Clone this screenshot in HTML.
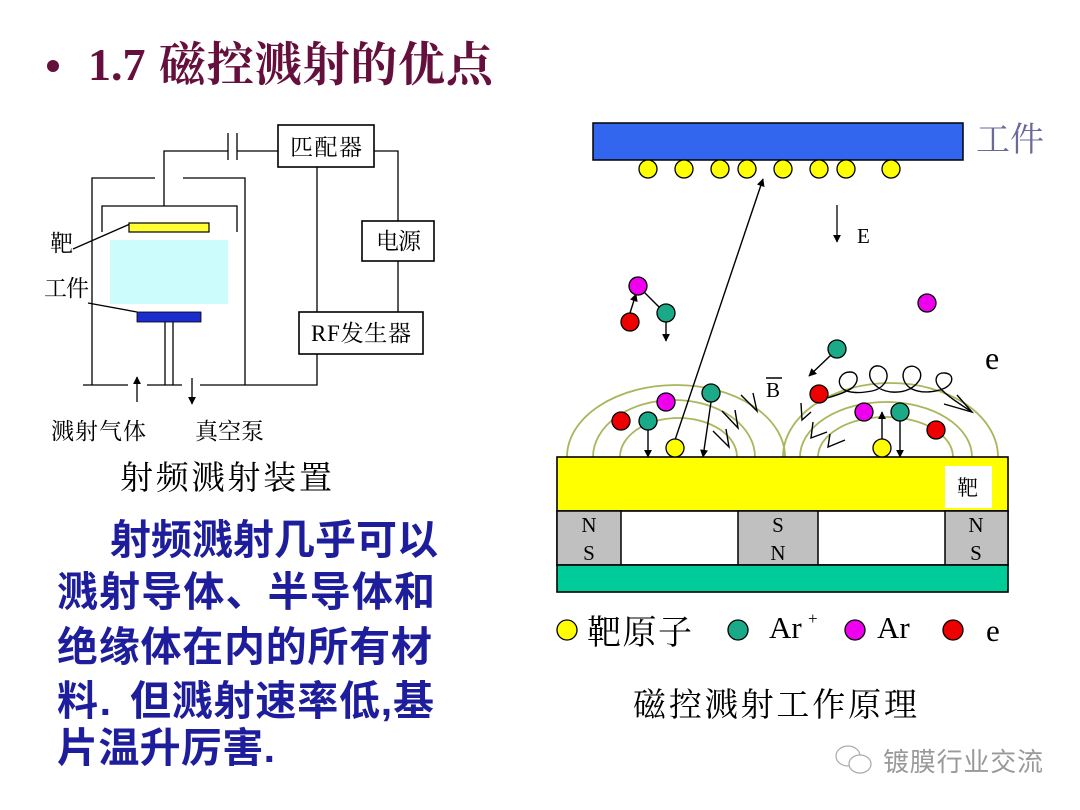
<!DOCTYPE html>
<html><head><meta charset="utf-8"><style>
html,body{margin:0;padding:0;background:#fff;}
svg{display:block;}
.s{font-family:"Liberation Serif","Noto Serif CJK SC",serif;}
.h{font-family:"Liberation Sans","Noto Sans CJK SC",sans-serif;}
</style></head><body>
<svg width="1080" height="810" viewBox="0 0 1080 810" xmlns="http://www.w3.org/2000/svg">
<defs>
<marker id="ah" viewBox="0 0 10 10" refX="9" refY="5" markerWidth="8" markerHeight="8" orient="auto" markerUnits="userSpaceOnUse">
<path d="M0,0 L10,5 L0,10 z" fill="#000"/></marker>
</defs>
<rect width="1080" height="810" fill="#fff"/>

<!-- Title -->
<circle cx="53" cy="66" r="6" fill="#650f3c"/>
<text x="88" y="80" class="s" font-size="46" font-weight="bold" fill="#650f3c">1.7</text>
<text x="159" y="81" class="s" font-size="47" font-weight="bold" fill="#650f3c" textLength="334" lengthAdjust="spacing">磁控溅射的优点</text>

<!-- Left apparatus -->
<g stroke="#000" stroke-width="1.3" fill="none">
<polyline points="164,206 164,151 228,151"/>
<line x1="237" y1="151" x2="278" y2="151"/>
<line x1="228" y1="133" x2="228" y2="160"/>
<line x1="237" y1="133" x2="237" y2="160"/>
<rect x="278" y="125" width="96" height="42" stroke-width="1.6"/>
<polyline points="374,151 398,151 398,221"/>
<rect x="362" y="221" width="72" height="40" stroke-width="1.6"/>
<line x1="398" y1="261" x2="398" y2="312"/>
<line x1="317" y1="167" x2="317" y2="312"/>
<rect x="299" y="312" width="124" height="42" stroke-width="1.6"/>
<polyline points="317,354 317,385 200,385"/>
<line x1="147" y1="385" x2="182" y2="385"/>
<line x1="83" y1="385" x2="128" y2="385"/>
<polyline points="92,385 92,178 155,178"/>
<polyline points="183,178 245,178 245,385"/>
<polyline points="102,232 102,206 237,206 237,232"/>
<line x1="165" y1="322" x2="165" y2="385"/>
<line x1="173" y1="322" x2="173" y2="385"/>
<line x1="73" y1="249" x2="130" y2="224"/>
<line x1="88" y1="303" x2="137" y2="312"/>
<line x1="137" y1="402" x2="137" y2="377" marker-end="url(#ah)"/>
<line x1="192" y1="378" x2="192" y2="404" marker-end="url(#ah)"/>
</g>
<rect x="110" y="240" width="118" height="64" fill="#ccfcfc"/>
<rect x="129" y="223" width="80" height="9" fill="#ffff33" stroke="#000" stroke-width="1.2"/>
<rect x="137" y="312" width="64" height="10" fill="#1a2ccc" stroke="#000" stroke-width="0.8"/>

<g class="s" font-size="23" fill="#000">
<text x="290" y="155" textLength="72" lengthAdjust="spacing">匹配器</text>
<text x="376" y="249" textLength="45" lengthAdjust="spacing">电源</text>
<text x="311" y="341" textLength="100" lengthAdjust="spacing">RF发生器</text>
<text x="50" y="251">靶</text>
<text x="44" y="296" textLength="45" lengthAdjust="spacing">工件</text>
<text x="51" y="439" textLength="95" lengthAdjust="spacing">溅射气体</text>
<text x="195" y="439" textLength="69" lengthAdjust="spacing">真空泵</text>
</g>
<text x="120" y="489" class="s" font-size="33" fill="#000" textLength="212" lengthAdjust="spacing">射频溅射装置</text>

<!-- Body text -->
<g class="h" font-size="41" font-weight="bold" fill="#1e1e9c">
<text x="110" y="554" textLength="328" lengthAdjust="spacing">射频溅射几乎可以</text>
<text x="57" y="606" textLength="378" lengthAdjust="spacing">溅射导体、半导体和</text>
<text x="57" y="661" textLength="375" lengthAdjust="spacing">绝缘体在内的所有材</text>
<text x="57" y="715" textLength="54" lengthAdjust="spacing">料.</text>
<text x="130" y="715" textLength="304" lengthAdjust="spacing">但溅射速率低,基</text>
<text x="57" y="762" textLength="218" lengthAdjust="spacing">片温升厉害.</text>
</g>

<!-- Right diagram -->
<rect x="593" y="123" width="370" height="37" fill="#3366ee" stroke="#000" stroke-width="1.5"/>
<text x="976" y="151" class="s" font-size="34" fill="#6a6a9a">工件</text>
<g fill="#ffff00" stroke="#000" stroke-width="1.3">
<circle cx="648" cy="169" r="9"/><circle cx="684" cy="169" r="9"/><circle cx="720" cy="169" r="9"/><circle cx="747" cy="169" r="9"/><circle cx="783" cy="169" r="9"/><circle cx="819" cy="169" r="9"/><circle cx="846" cy="169" r="9"/><circle cx="891" cy="169" r="9"/>
</g>
<line x1="837" y1="205" x2="837" y2="242" stroke="#000" stroke-width="1.3" marker-end="url(#ah)"/>
<text x="857" y="243" class="s" font-size="21" fill="#000">E</text>

<!-- field lines -->
<g fill="none" stroke="#aab55c" stroke-width="1.8">
<path d="M567,457 A109,72 0 0 1 785,457"/>
<path d="M593,457 A81,57 0 0 1 755,457"/>
<path d="M620,457 A58.5,39 0 0 1 737,457"/>
<path d="M783,457 A107.5,74 0 0 1 998,457"/>
<path d="M800,457 A86,55 0 0 1 972,457"/>
<path d="M818,457 A67.5,40 0 0 1 953,457"/>
</g>

<!-- target & magnets -->
<rect x="557" y="457" width="451" height="54" fill="#ffff00" stroke="#000" stroke-width="1.6"/>
<rect x="945" y="466" width="47" height="42" fill="#fff"/>
<text x="957" y="495" class="s" font-size="21" fill="#000">靶</text>
<rect x="557" y="511" width="451" height="54" fill="#fff" stroke="#000" stroke-width="1.6"/>
<rect x="557" y="511" width="64" height="54" fill="#c0c0c0" stroke="#000" stroke-width="1.5"/>
<rect x="738" y="511" width="80" height="54" fill="#c0c0c0" stroke="#000" stroke-width="1.5"/>
<rect x="945" y="511" width="63" height="54" fill="#c0c0c0" stroke="#000" stroke-width="1.5"/>
<rect x="557" y="565" width="451" height="27" fill="#00cc99" stroke="#000" stroke-width="1.6"/>
<g class="s" font-size="21" fill="#000" text-anchor="middle">
<text x="589" y="532">N</text><text x="589" y="560">S</text>
<text x="778" y="532">S</text><text x="778" y="560">N</text>
<text x="976" y="532">N</text><text x="976" y="560">S</text>
</g>

<!-- arrows & lines -->
<g stroke="#000" stroke-width="1.4" fill="none">
<line x1="675" y1="440" x2="763" y2="179" marker-end="url(#ah)"/>
<line x1="644" y1="292" x2="659" y2="307"/>
<line x1="630" y1="313" x2="636" y2="294" marker-end="url(#ah)"/>
<line x1="666" y1="322" x2="666" y2="341" marker-end="url(#ah)"/>
<line x1="831" y1="355" x2="809" y2="376" marker-end="url(#ah)"/>
<line x1="648" y1="430" x2="648" y2="457" marker-end="url(#ah)"/>
<line x1="711" y1="402" x2="703" y2="457" marker-end="url(#ah)"/>
<line x1="900" y1="421" x2="900" y2="457" marker-end="url(#ah)"/>
<line x1="882" y1="439" x2="882" y2="412" marker-end="url(#ah)"/>
<!-- chevrons -->
<polyline points="741,395 757,411 753,393"/>
<polyline points="722,411 738,428 735,410"/>
<polyline points="713,431 729,447 726,429"/>
<polyline points="801,403 802,420 811,412"/>
<polyline points="813,422 811,438 827,432"/>
<polyline points="830,434 828,447 845,440"/>
<!-- electron trajectory -->
<path d="M827,398 C834,396 845,393 852,388 C860,381 858,372 850,372 C841,372 836,381 842,388 C848,394 862,393 872,391 C882,389 890,380 886,371 C882,364 872,364 870,372 C868,381 878,391 892,392 C905,393 915,388 920,379 C923,370 915,364 908,367 C900,371 902,384 912,389 C922,394 936,392 945,388 C954,383 954,374 945,373 C936,372 933,381 940,388 C947,396 960,404 972,412"/>
<polyline points="944,404 972,412 957,395"/>
</g>

<!-- particles -->
<g stroke="#000" stroke-width="1.3">
<circle cx="638" cy="286" r="9" fill="#ee00ee"/>
<circle cx="630" cy="322" r="9" fill="#ee0000"/>
<circle cx="666" cy="313" r="9" fill="#1aaa88"/>
<circle cx="927" cy="303" r="9" fill="#ee00ee"/>
<circle cx="837" cy="349" r="9" fill="#1aaa88"/>
<circle cx="819" cy="394" r="9" fill="#ee0000"/>
<circle cx="864" cy="412" r="9" fill="#ee00ee"/>
<circle cx="900" cy="412" r="9" fill="#1aaa88"/>
<circle cx="936" cy="430" r="9" fill="#ee0000"/>
<circle cx="882" cy="448" r="9" fill="#ffff00"/>
<circle cx="621" cy="421" r="9" fill="#ee0000"/>
<circle cx="648" cy="421" r="9" fill="#1aaa88"/>
<circle cx="666" cy="402" r="9" fill="#ee00ee"/>
<circle cx="711" cy="393" r="9" fill="#1aaa88"/>
<circle cx="675" cy="448" r="9" fill="#ffff00"/>
</g>
<text x="766" y="397" class="s" font-size="21" fill="#000">B</text>
<line x1="766" y1="378" x2="782" y2="378" stroke="#000" stroke-width="1.5"/>
<text x="985" y="369" class="s" font-size="32" fill="#000">e</text>

<!-- legend -->
<g stroke="#000" stroke-width="1.3">
<circle cx="567" cy="630" r="10" fill="#ffff00"/>
<circle cx="738" cy="630" r="10" fill="#1aaa88"/>
<circle cx="855" cy="630" r="10" fill="#ee00ee"/>
<circle cx="953" cy="630" r="10" fill="#ee0000"/>
</g>
<text x="587" y="644" class="s" font-size="34" fill="#000" textLength="105" lengthAdjust="spacing">靶原子</text>
<text x="769" y="638" class="s" font-size="31" fill="#000">Ar</text>
<text x="808" y="624" class="s" font-size="17" fill="#000">+</text>
<text x="877" y="638" class="s" font-size="31" fill="#000">Ar</text>
<text x="986" y="641" class="s" font-size="31" fill="#000">e</text>
<text x="633" y="716" class="s" font-size="33" fill="#000" textLength="284" lengthAdjust="spacing">磁控溅射工作原理</text>

<!-- watermark -->
<g fill="none" stroke="#aaa" stroke-width="1.2">
<ellipse cx="848" cy="756" rx="12" ry="10"/>
<ellipse cx="860" cy="764" rx="11" ry="9" fill="#fff"/>
</g>
<text x="883" y="771" class="h" font-size="26" fill="#999" textLength="160" lengthAdjust="spacing">镀膜行业交流</text>
</svg>
</body></html>
